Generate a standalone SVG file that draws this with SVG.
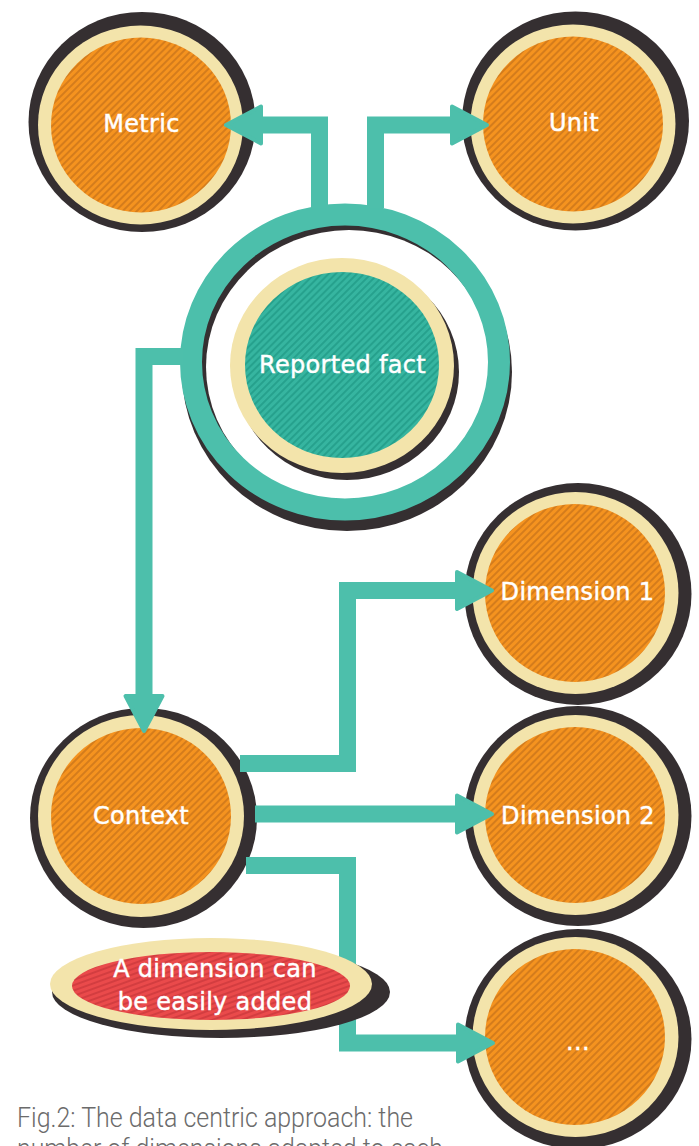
<svg xmlns="http://www.w3.org/2000/svg" width="699" height="1146" viewBox="0 0 699 1146">
<defs>
<pattern id="hO" width="5" height="5" patternUnits="userSpaceOnUse" patternTransform="rotate(45)"><rect width="5" height="5" fill="#f5931f"/><rect width="2" height="5" fill="#d47c1c"/></pattern>
<pattern id="hT" width="5" height="5" patternUnits="userSpaceOnUse" patternTransform="rotate(45)"><rect width="5" height="5" fill="#36b5a0"/><rect width="2" height="5" fill="#26a18d"/></pattern>
<pattern id="hR" width="5" height="5" patternUnits="userSpaceOnUse" patternTransform="rotate(70)"><rect width="5" height="5" fill="#ea4a4b"/><rect width="2" height="5" fill="#d33d40"/></pattern>
<marker id="ah" markerUnits="userSpaceOnUse" viewBox="0 0 44 46" markerWidth="44" markerHeight="46" refX="3" refY="23" orient="auto"><polygon points="3,4.5 38,23 3,41.5" fill="#4dbfab" stroke="#4dbfab" stroke-width="4" stroke-linejoin="round"/></marker>
</defs>
<style>
.dk{fill:#352f31}
.cr{fill:#f3e4ab}
.or{fill:url(#hO)}
.lbl{font-family:"DejaVu Sans","Liberation Sans",sans-serif;font-size:24px;fill:#ffffff;stroke:#ffffff;stroke-width:0.45px;text-anchor:middle;letter-spacing:0.3px}
.cn{fill:none;stroke:#4dbfab;stroke-width:17;stroke-linejoin:miter;marker-end:url(#ah)}
.cap{font-family:Roboto,"Liberation Sans",sans-serif;font-weight:300;font-size:27px;fill:#6b6b6b}
</style>
<rect width="699" height="1146" fill="#ffffff"/>

<g id="reported-fact">
<ellipse cx="347" cy="372" rx="165" ry="159" class="dk"/>
<ellipse cx="349" cy="367" rx="143" ry="137" fill="#ffffff"/>
<ellipse cx="345" cy="362" rx="154" ry="147.5" fill="none" stroke="#4cbfab" stroke-width="22"/>
<ellipse cx="347" cy="372" rx="112" ry="108" class="dk"/>
<ellipse cx="342" cy="365.5" rx="112" ry="107.5" class="cr"/>
<ellipse cx="342" cy="365" rx="97" ry="93" fill="url(#hT)"/>
<text x="342.5" y="373" class="lbl">Reported fact</text>
</g>

<g id="metric">
<ellipse cx="142" cy="122" rx="113.5" ry="110" class="dk"/>
<ellipse cx="140.5" cy="125" rx="102.5" ry="99.5" class="cr"/>
<ellipse cx="141" cy="125" rx="90" ry="87.5" class="or"/>
<text x="141.5" y="132" class="lbl">Metric</text>
</g>

<g id="unit">
<ellipse cx="575.5" cy="121" rx="113.5" ry="109.5" class="dk"/>
<ellipse cx="573" cy="124" rx="102.5" ry="99.5" class="cr"/>
<ellipse cx="573" cy="124" rx="90" ry="87.5" class="or"/>
<text x="574" y="131" class="lbl">Unit</text>
</g>

<g id="context">
<ellipse cx="143.5" cy="818" rx="113.5" ry="110" class="dk"/>
<ellipse cx="141" cy="816" rx="103" ry="101" class="cr"/>
<ellipse cx="141" cy="816" rx="90" ry="88" class="or"/>
<text x="141" y="824" class="lbl">Context</text>
</g>

<g id="dimension-1">
<ellipse cx="578" cy="594" rx="113.5" ry="111" class="dk"/>
<ellipse cx="575.5" cy="593" rx="103" ry="101" class="cr"/>
<ellipse cx="575" cy="593" rx="90" ry="89" class="or"/>
<text x="577.5" y="600" class="lbl">Dimension 1</text>
</g>

<g id="dimension-2">
<ellipse cx="578" cy="816" rx="113.5" ry="110" class="dk"/>
<ellipse cx="575.5" cy="815" rx="103" ry="100" class="cr"/>
<ellipse cx="575" cy="815" rx="90" ry="88" class="or"/>
<text x="578" y="824" class="lbl">Dimension 2</text>
</g>

<g id="more">
<ellipse cx="578" cy="1039" rx="113.5" ry="110" class="dk"/>
<ellipse cx="575.5" cy="1037" rx="103" ry="100" class="cr"/>
<ellipse cx="575" cy="1037" rx="90" ry="88" class="or"/>
<text x="578" y="1050" class="lbl">...</text>
</g>

<g id="connectors">
<path class="cn" d="M319.5 208 V125 H261"/>
<path class="cn" d="M375.5 208 V125 H452"/>
<path class="cn" d="M183 356.5 H144 V696"/>
<path class="cn" d="M240 763.5 H347.5 V590.5 H457"/>
<path class="cn" d="M255 814 H457"/>
<path class="cn" d="M246 865.5 H347.5 V1043 H458"/>
</g>

<g id="note">
<ellipse cx="221" cy="992" rx="169" ry="46" class="dk"/>
<ellipse cx="211" cy="984" rx="161" ry="46" class="cr"/>
<ellipse cx="211" cy="986" rx="139" ry="34" fill="url(#hR)"/>
<text x="215" y="977" class="lbl">A dimension can</text>
<text x="215" y="1010" class="lbl">be easily added</text>
</g>

<g id="caption">
<text x="17" y="1127" class="cap" textLength="396" lengthAdjust="spacingAndGlyphs">Fig.2: The data centric approach: the</text>
<text x="17" y="1158" class="cap" textLength="426" lengthAdjust="spacingAndGlyphs">number of dimensions adapted to each</text>
</g>
</svg>
